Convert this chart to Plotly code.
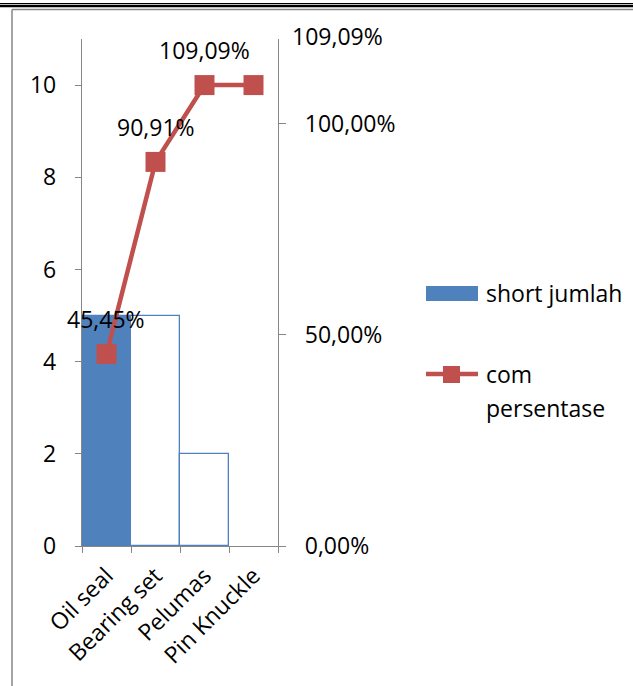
import plotly.graph_objects as go

categories = ["Oil seal", "Bearing set", "Pelumas", "Pin Knuckle"]
short_jumlah = [5, 5, 2, 0]
com_persentase = [0.4545, 0.9091, 1.0909, 1.0909]
left_ticks = [0, 2, 4, 6, 8, 10]
right_tickvals = [0, 0.5, 1.0]
right_ticktext = ["0,00%", "50,00%", "100,00%"]
series_names = ["short jumlah", "com persentase"]

W, H = 633, 686
BLUE = "#4F81BD"
RED = "#C0504D"
GRAY = "#868686"
FONT = "Open Sans"
FS = 23


def px(x):
    return x / W


def py(y):
    return 1 - y / H


def pct(v):
    return f"{v*100:.2f}%".replace(".", ",")


fig = go.Figure()
fig.add_trace(go.Bar(
    x=categories, y=short_jumlah, name=series_names[0],
    marker=dict(color=[BLUE, "white", "white", "white"],
                line=dict(color=BLUE, width=[1.3 if v > 0 else 0 for v in short_jumlah])),
    yaxis="y", showlegend=False,
))
fig.add_trace(go.Scatter(
    x=categories, y=com_persentase, name=series_names[1],
    mode="lines+markers", yaxis="y2",
    line=dict(color=RED, width=4.5),
    marker=dict(symbol="square", size=20, color=RED),
    cliponaxis=False, showlegend=False,
))

annotations = []
for i, (c, v) in enumerate(zip(categories, com_persentase)):
    if i < 3:
        annotations.append(dict(x=i, y=v, xref="x", yref="y2", text=pct(v),
                                showarrow=False, yshift=35,
                                font=dict(family=FONT, size=FS, color="black")))
    else:
        annotations.append(dict(x=i, y=v, xref="x", yref="y2", text=pct(v),
                                showarrow=False, xshift=84, yshift=49,
                                font=dict(family=FONT, size=FS, color="black")))

annotations += [
    dict(x=px(484), y=py(293), xref="paper", yref="paper", text=series_names[0],
         showarrow=False, xanchor="left", yanchor="middle",
         font=dict(family=FONT, size=FS, color="black")),
    dict(x=px(484), y=py(374), xref="paper", yref="paper", text="com",
         showarrow=False, xanchor="left", yanchor="middle",
         font=dict(family=FONT, size=FS, color="black")),
    dict(x=px(484), y=py(408), xref="paper", yref="paper", text="persentase",
         showarrow=False, xanchor="left", yanchor="middle",
         font=dict(family=FONT, size=FS, color="black")),
]

shapes = [
    dict(type="line", xref="paper", yref="paper", x0=0, x1=1, y0=py(3.5), y1=py(3.5),
         line=dict(color="black", width=1.2)),
    dict(type="line", xref="paper", yref="paper", x0=0, x1=1, y0=py(6), y1=py(6),
         line=dict(color="black", width=2.6)),
    dict(type="line", xref="paper", yref="paper", x0=px(12), x1=1, y0=py(9.5), y1=py(9.5),
         line=dict(color=GRAY, width=1.5)),
    dict(type="line", xref="paper", yref="paper", x0=px(12), x1=px(12), y0=py(9.5), y1=0,
         line=dict(color=GRAY, width=1.5)),
    dict(type="rect", xref="paper", yref="paper", x0=px(426), x1=px(478), y0=py(301), y1=py(286),
         fillcolor=BLUE, line=dict(width=0)),
    dict(type="line", xref="paper", yref="paper", x0=px(426), x1=px(478), y0=py(374), y1=py(374),
         line=dict(color=RED, width=4.5)),
    dict(type="rect", xref="paper", yref="paper", x0=px(443), x1=px(460), y0=py(383), y1=py(366),
         fillcolor=RED, line=dict(width=0)),
]

fig.update_layout(
    width=W, height=H,
    margin=dict(l=0, r=0, t=0, b=0, autoexpand=False),
    paper_bgcolor="white", plot_bgcolor="white",
    bargap=0,
    showlegend=False,
    font=dict(family=FONT, size=FS, color="black"),
    xaxis=dict(domain=[px(82), px(278)], type="category", range=[-0.5, 3.5],
               categoryorder="array", categoryarray=categories,
               showline=True, linecolor=GRAY, linewidth=1.3, automargin=False,
               ticks="outside", tickson="boundaries", ticklen=6, tickcolor=GRAY,
               tickangle=-45, showgrid=False, zeroline=False, ticklabelstandoff=6,
               tickfont=dict(family=FONT, size=FS, color="black")),
    yaxis=dict(domain=[py(546), py(39)], range=[0, 11], tickvals=left_ticks,
               showline=True, linecolor=GRAY, linewidth=1.3, automargin=False,
               ticks="outside", ticklen=6, tickcolor=GRAY,
               showgrid=False, zeroline=False, ticklabelstandoff=14,
               tickfont=dict(family=FONT, size=FS, color="black")),
    yaxis2=dict(overlaying="y", side="right", anchor="x", range=[0, 1.2],
                tickvals=right_tickvals, ticktext=right_ticktext,
                showline=True, linecolor=GRAY, linewidth=1.3, automargin=False,
                ticks="outside", ticklen=7, tickcolor=GRAY,
                showgrid=False, zeroline=False, ticklabelstandoff=14,
                tickfont=dict(family=FONT, size=FS, color="black")),
    annotations=annotations,
    shapes=shapes,
)

fig.write_html("out.html")
